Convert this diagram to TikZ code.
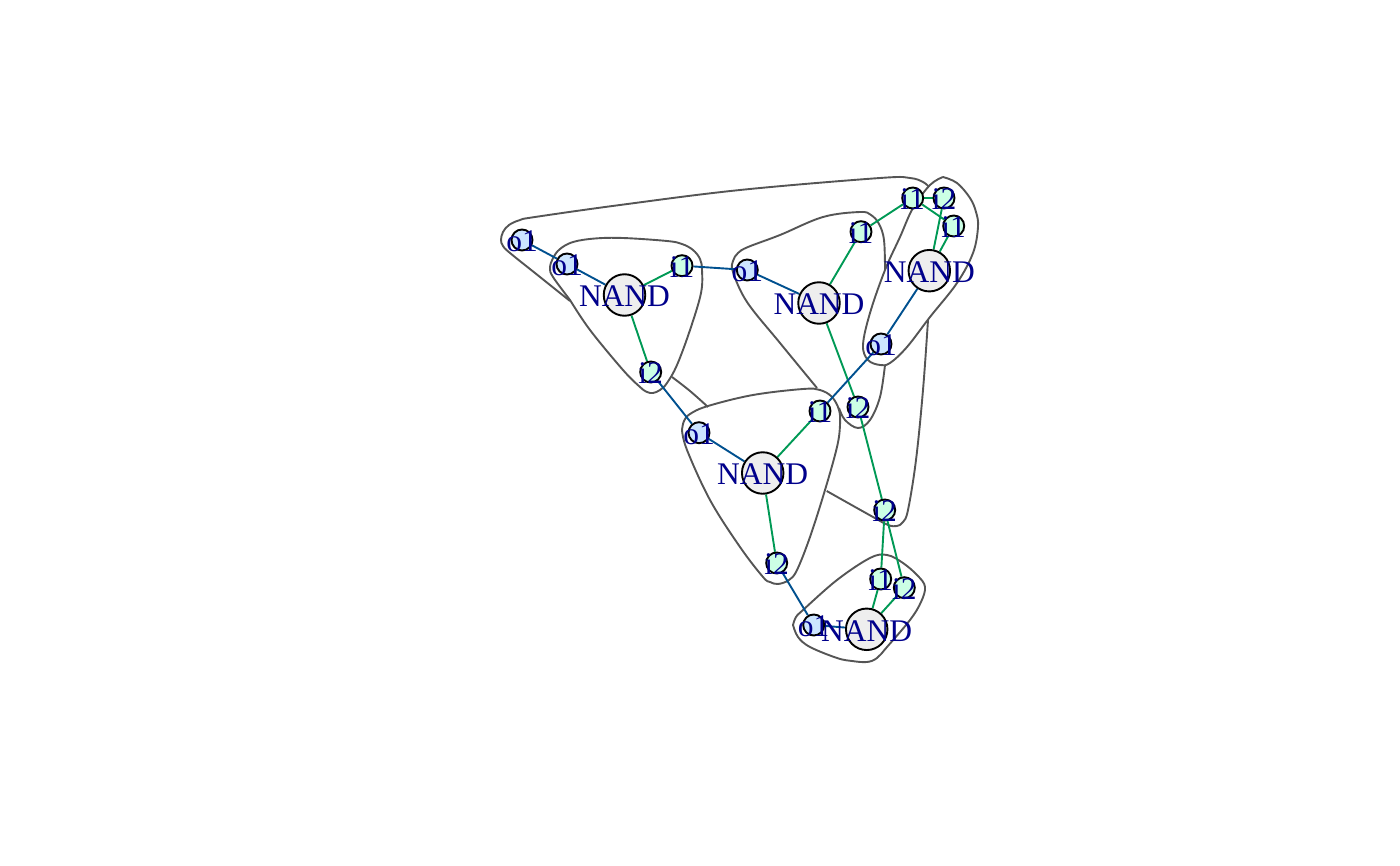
\documentclass[tikz,border=0pt]{standalone}
\usepackage{fontspec}
\setmainfont{Liberation Serif}
\usetikzlibrary{backgrounds}
\definecolor{hullc}{HTML}{555555}
\definecolor{bluee}{HTML}{00508F}
\definecolor{greene}{HTML}{009955}
\definecolor{labc}{HTML}{00008B}
\tikzset{
  x=1pt,y=-1pt,
  vlabel/.style={text=labc,font=\fontsize{31.5}{31.5}\selectfont,inner sep=0pt,yshift=-1.5pt},
  small/.style={circle,draw=black,line width=1.9pt,minimum size=21pt,inner sep=0pt},
  inn/.style={small,fill=inc,label={[vlabel]center:#1}},
  onn/.style={small,fill=outc,label={[vlabel]center:#1}},
  gate/.style={circle,draw=black,line width=1.9pt,fill=gatec,minimum size=41.5pt,inner sep=0pt,label={[vlabel]center:NAND}},
  wb/.style={draw=bluee,line width=1.9pt},
  wg/.style={draw=greene,line width=1.9pt},
  hull/.style={draw=hullc,line width=1.9pt,smooth,tension=0.6},
}
\definecolor{inc}{HTML}{CCFFE5}
\definecolor{outc}{HTML}{CCE5FF}
\definecolor{gatec}{HTML}{EEEEEE}
\begin{document}
\begin{tikzpicture}
\useasboundingbox (0,0) rectangle (1400,866);
% gates
\node[gate] (n1) at (624.5,295) {};
\node[gate] (n2) at (819,303) {};
\node[gate] (n3) at (929.3,270.7) {};
\node[gate] (n4) at (762.7,473) {};
\node[gate] (n5) at (866.7,629.3) {};
% ports
\node[onn=o1] (a) at (522,240) {};
\node[onn=o1] (b) at (567,264) {};
\node[inn=i1] (c) at (682,265.7) {};
\node[inn=i2] (d) at (650.7,372) {};
\node[onn=o1] (e) at (747.3,270) {};
\node[inn=i1] (f) at (861,231.7) {};
\node[inn=i2] (g) at (858,407) {};
\node[inn=i1] (h) at (912.7,198) {};
\node[inn=i2] (i) at (944,198) {};
\node[inn=i1] (j) at (953.7,226) {};
\node[onn=o1] (k) at (881,344) {};
\node[inn=i1] (l) at (820,411) {};
\node[onn=o1] (m) at (699,432.7) {};
\node[inn=i2] (p) at (776.7,563) {};
\node[inn=i2] (q) at (884.7,510) {};
\node[inn=i1] (r) at (880.7,579) {};
\node[inn=i2] (s) at (904.3,587.7) {};
\node[onn=o1] (t) at (813.7,625) {};
\begin{scope}[on background layer]
% hulls
\draw[hull] plot coordinates {(570,301) (540,277) (510,253) (503,246) (501,240) (503,232) (509,225) (520,220) (535,217) (620,205) (740,190) (880,178) (910,178) (923,182) (929,187)};
\draw[hull] plot coordinates {(570,300) (553,277) (550,268) (553,258) (560,249) (573,242) (595,238.5) (623,238) (667,241) (682,244) (693,250) (700,259) (702,270) (701,293) (690,330) (677,365) (667,383) (660,390) (653,393) (647,392) (640,387) (623,370) (590,330) (570,300)};
\draw[hull] plot coordinates {(672,377) (690,391) (708,407)};
\draw[hull] plot coordinates {(885,270) (884,240) (879,224) (871,215) (860,212) (823,217) (780,235) (748,247) (738,253) (733,261) (733,272) (747,302) (780,343) (817,388)};
\draw[hull] plot coordinates {(885,365) (880,397) (870,420) (858,428) (845,420) (839,408)};
\draw[hull] plot coordinates {(943,177) (957,183) (970,198) (976,212) (978,227) (973,253) (957,283) (930,317) (907,347) (890,363) (880,365) (868,360) (863,345) (870,313) (885,270) (900,237) (913,208) (930,185) (943,177)};
\draw[hull] plot coordinates {(928,320) (923,390) (916,460) (908,510) (903,522) (897,526) (888,525) (873,517) (826.7,491)};
\draw[hull] plot coordinates {(682,430) (684,421) (690,414) (708,406) (753,395) (803,389) (820,390) (832,397) (839,410) (840,425) (837,447) (825,490) (810,537) (797,570) (789,580) (778,584) (770,582) (763,577) (740,547) (710,500) (687,450) (682,430)};
\draw[hull] plot coordinates {(793,625) (796,617) (803,610) (837,580) (870,558) (887,555) (903,563) (918,576) (925,587) (921,602) (910,620) (887,647) (877,658) (867,662) (852,661) (837,658) (810,647) (798,637) (793,625)};
% edges
\draw[wb] (a) -- (b);
\draw[wb] (b) -- (n1);
\draw[wg] (n1) -- (c);
\draw[wg] (n1) -- (d);
\draw[wb] (c) -- (e);
\draw[wb] (d) -- (m);
\draw[wb] (e) -- (n2);
\draw[wg] (n2) -- (f);
\draw[wg] (n2) -- (g);
\draw[wg] (g) -- (q);
\draw[wg] (f) -- (h);
\draw[wg] (h) -- (i);
\draw[wg] (h) -- (j);
\draw[wg] (n3) -- (i);
\draw[wg] (n3) -- (j);
\draw[wb] (n3) -- (k);
\draw[wb] (k) -- (l);
\draw[wg] (l) -- (n4);
\draw[wb] (m) -- (n4);
\draw[wg] (n4) -- (p);
\draw[wb] (p) -- (t);
\draw[wb] (t) -- (n5);
\draw[wg] (n5) -- (r);
\draw[wg] (n5) -- (s);
\draw[wg] (q) -- (r);
\draw[wg] (q) -- (s);
\end{scope}
\end{tikzpicture}
\end{document}
